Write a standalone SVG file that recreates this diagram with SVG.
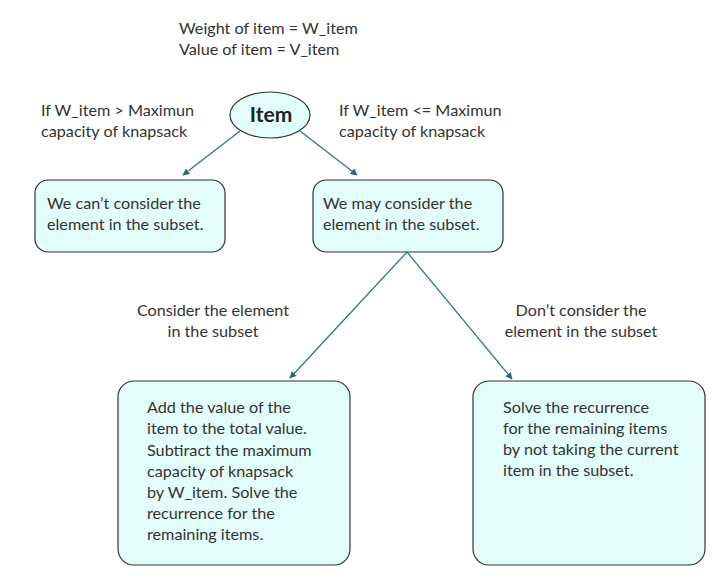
<svg xmlns="http://www.w3.org/2000/svg" width="727" height="581" viewBox="0 0 727 581">
<defs>
<style>
.t{font-family:Lato,"Open Sans",sans-serif;font-size:16.2px;fill:#333}
.b{fill:#E3FDFA;stroke:#333;stroke-width:1.2}
.c{stroke:#2A7A80;stroke-width:1.3;fill:none;marker-end:url(#ah)}
</style>
<marker id="ah" viewBox="0 0 10 10" refX="9" refY="5" markerWidth="7" markerHeight="7" orient="auto-start-reverse" markerUnits="userSpaceOnUse">
<path d="M0,0 L10,5 L0,10 z" fill="#1F6E73"/>
</marker>
</defs>
<rect width="727" height="581" fill="#fff"/>
<g id="header">
<text class="t" x="179" y="34">Weight of item = W_item</text>
<text class="t" x="179" y="55">Value of item = V_item</text>
</g>
<g id="item">
<ellipse cx="270" cy="115" rx="40" ry="23" class="b"/>
<text x="271" y="122" text-anchor="middle" style="font-family:Lato,sans-serif;font-size:21px;font-weight:bold;fill:#222">Item</text>
</g>
<g id="label-left">
<text class="t" x="41" y="116">If W_item &gt; Maximun</text>
<text class="t" x="41" y="137">capacity of knapsack</text>
</g>
<g id="label-right">
<text class="t" x="339" y="116">If W_item &lt;= Maximun</text>
<text class="t" x="339" y="137">capacity of knapsack</text>
</g>
<g id="box-cant">
<rect x="35" y="180" width="190" height="72" rx="13" class="b"/>
<text class="t" x="47" y="209">We can’t consider the</text>
<text class="t" x="47" y="230">element in the subset.</text>
</g>
<g id="box-may">
<rect x="313" y="180" width="190" height="72" rx="13" class="b"/>
<text class="t" x="323" y="209">We may consider the</text>
<text class="t" x="323" y="230">element in the subset.</text>
</g>
<g id="label-consider">
<text class="t" x="213" y="316" text-anchor="middle">Consider the element</text>
<text class="t" x="213" y="337" text-anchor="middle">in the subset</text>
</g>
<g id="label-dont">
<text class="t" x="581" y="316" text-anchor="middle">Don’t consider the</text>
<text class="t" x="581" y="337" text-anchor="middle">element in the subset</text>
</g>
<g id="box-add">
<rect x="118" y="381" width="232" height="184" rx="16" class="b"/>
<text class="t" x="147" y="413">Add the value of the</text>
<text class="t" x="147" y="434">item to the total value.</text>
<text class="t" x="147" y="455.5">Subtiract the maximum</text>
<text class="t" x="147" y="477">capacity of knapsack</text>
<text class="t" x="147" y="498">by W_item. Solve the</text>
<text class="t" x="147" y="519">recurrence for the</text>
<text class="t" x="147" y="540">remaining items.</text>
</g>
<g id="box-solve">
<rect x="473" y="381" width="232" height="184" rx="16" class="b"/>
<text class="t" x="503" y="413">Solve the recurrence</text>
<text class="t" x="503" y="434">for the remaining items</text>
<text class="t" x="503" y="455">by not taking the current</text>
<text class="t" x="503" y="476">item in the subset.</text>
</g>
<g id="connectors">
<line class="c" x1="240" y1="131" x2="183" y2="175"/>
<line class="c" x1="300" y1="131" x2="357" y2="175"/>
<line class="c" x1="407" y1="252" x2="290" y2="378"/>
<line class="c" x1="407" y1="252" x2="512" y2="379"/>
</g>
</svg>
